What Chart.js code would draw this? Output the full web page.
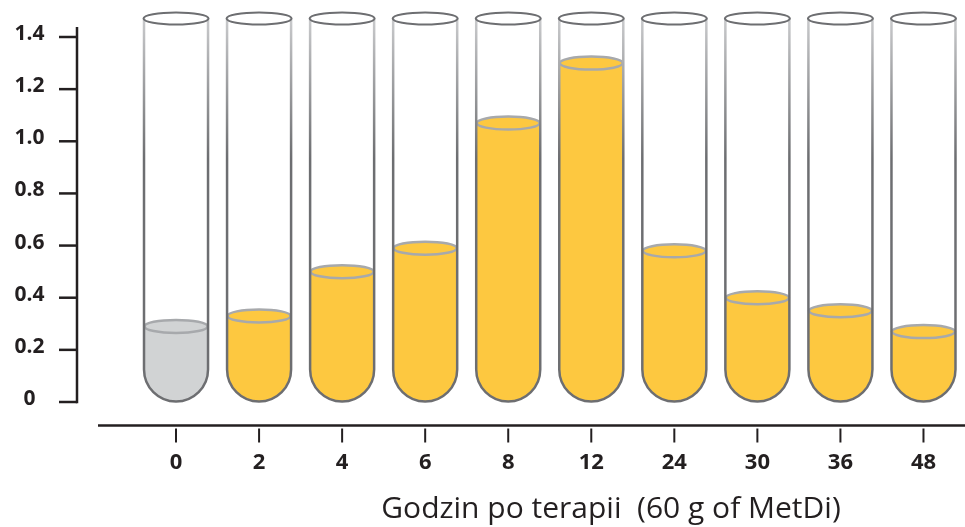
<!DOCTYPE html>
<html>
<head>
<meta charset="utf-8">
<script src="https://cdn.jsdelivr.net/npm/chart.js@4"></script>
<style>
html,body{margin:0;padding:0;background:#fff;}
#wrap{width:965px;height:527px;position:relative;}
</style>
</head>
<body>
<div id="wrap"><canvas id="c" width="965" height="527"></canvas></div>
<script>
// ---- data ----
const categories = ['0', '2', '4', '6', '8', '12', '24', '30', '36', '48'];
const values = [0.29, 0.33, 0.50, 0.59, 1.07, 1.30, 0.58, 0.40, 0.35, 0.27];
const yTickValues = [0, 0.2, 0.4, 0.6, 0.8, 1.0, 1.2, 1.4];
const xTitle = 'Godzin po terapii  (60 g of MetDi)';

// ---- styles ----
const INK = '#231f20';
const TUBE = '#6d6e71';
const YELLOW = '#fdc840';
const GREY_LIQ = '#d1d3d4';
const MENISCUS = '#a7a9ac';

const tubePlugin = {
  id: 'tubes',
  afterDatasetsDraw(chart) {
    const { ctx, chartArea, scales } = chart;
    const xs = scales.x, ys = scales.y;
    const meta = chart.getDatasetMeta(0);
    const base = ys.getPixelForValue(0);
    const rimY = chartArea.top - 18.5;

    // axes
    ctx.save();
    ctx.strokeStyle = INK;
    ctx.lineCap = 'butt';
    const axX = chartArea.left - 57.5;
    ctx.lineWidth = 2.5;
    ctx.beginPath();
    ctx.moveTo(axX, chartArea.top - 10);
    ctx.lineTo(axX, base + 1.2);
    ctx.stroke();
    yTickValues.forEach(v => {
      const py = ys.getPixelForValue(v);
      ctx.beginPath();
      ctx.moveTo(axX - 18, py);
      ctx.lineTo(axX, py);
      ctx.stroke();
    });
    const axY = base + 23.5;
    ctx.beginPath();
    ctx.moveTo(axX + 21, axY);
    ctx.lineTo(chart.width, axY);
    ctx.stroke();
    ctx.lineWidth = 2;
    categories.forEach((c, i) => {
      const px = xs.getPixelForValue(i);
      ctx.beginPath();
      ctx.moveTo(px, axY + 3);
      ctx.lineTo(px, axY + 17);
      ctx.stroke();
    });
    // axis title
    ctx.fillStyle = INK;
    ctx.font = '30px "Open Sans"';
    ctx.textAlign = 'center';
    ctx.textBaseline = 'middle';
    ctx.fillText(xTitle, 611, base + 107);
    ctx.restore();

    // tubes
    meta.data.forEach((el, i) => {
      const cx = el.x;
      const hw = el.width / 2 - 1;
      const r = hw;
      const cy = base - 0.5 - r;
      const lvl = el.y;
      const liq = i === 0 ? GREY_LIQ : YELLOW;
      ctx.save();
      // liquid body
      ctx.fillStyle = liq;
      ctx.beginPath();
      ctx.moveTo(cx - hw, lvl);
      ctx.lineTo(cx - hw, cy);
      ctx.arc(cx, cy, r, Math.PI, 0, true);
      ctx.lineTo(cx + hw, lvl);
      ctx.closePath();
      ctx.fill();
      // meniscus
      ctx.beginPath();
      ctx.ellipse(cx, lvl, hw - 0.5, 6.5, 0, 0, Math.PI * 2);
      ctx.fill();
      ctx.strokeStyle = MENISCUS;
      ctx.lineWidth = 2.5;
      ctx.stroke();
      // glass walls
      const g = ctx.createLinearGradient(0, rimY, 0, rimY + 140);
      g.addColorStop(0, '#c9cacc');
      g.addColorStop(1, TUBE);
      ctx.strokeStyle = g;
      ctx.lineWidth = 2.5;
      ctx.beginPath();
      ctx.moveTo(cx - hw, rimY);
      ctx.lineTo(cx - hw, cy);
      ctx.arc(cx, cy, r, Math.PI, 0, true);
      ctx.lineTo(cx + hw, rimY);
      ctx.stroke();
      // rim
      ctx.strokeStyle = TUBE;
      ctx.lineWidth = 2;
      ctx.beginPath();
      ctx.ellipse(cx, rimY, hw + 0.5, 6, 0, 0, Math.PI * 2);
      ctx.stroke();
      ctx.restore();
    });
  }
};

new Chart(document.getElementById('c'), {
  type: 'bar',
  data: {
    labels: categories,
    datasets: [{
      data: values,
      backgroundColor: 'rgba(0,0,0,0)',
      borderWidth: 0,
      categoryPercentage: 1,
      barPercentage: 0.795
    }]
  },
  options: {
    responsive: false,
    animation: false,
    layout: { padding: { top: 37, right: 0, left: 0, bottom: 0 } },
    plugins: { legend: { display: false }, tooltip: { enabled: false } },
    scales: {
      x: {
        type: 'category',
        offset: true,
        grid: { display: false, drawTicks: false },
        border: { display: false },
        ticks: {
          padding: 48,
          color: INK,
          font: { family: 'Open Sans', weight: 'bold', size: 22 },
          autoSkip: false,
          maxRotation: 0
        },
        afterFit: s => { s.height = 125; s.paddingLeft = 0; s.paddingRight = 0; }
      },
      y: {
        min: 0,
        max: 1.4,
        grid: { display: false, drawTicks: false },
        border: { display: false },
        afterBuildTicks: s => { s.ticks = yTickValues.map(v => ({ value: v })); },
        ticks: {
          padding: 90,
          crossAlign: 'center',
          labelOffset: -3,
          color: INK,
          font: { family: 'Open Sans', weight: 'bold', size: 21 },
          callback: v => (v === 0 ? '0' : Number(v).toFixed(1))
        },
        afterFit: s => { s.width = 134.5; s.paddingTop = 0; s.paddingBottom = 0; }
      }
    }
  },
  plugins: [tubePlugin]
});
</script>
</body>
</html>
